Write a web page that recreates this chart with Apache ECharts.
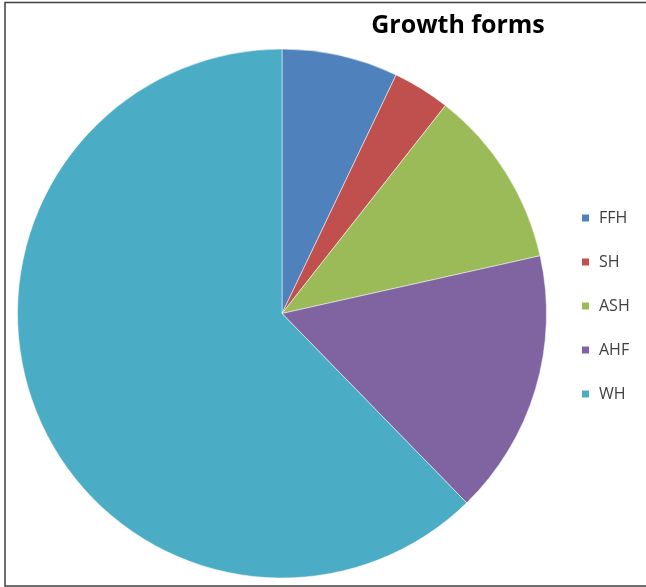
<!DOCTYPE html>
<html>
<head>
<meta charset="utf-8">
<script src="https://cdn.jsdelivr.net/npm/echarts@6/dist/echarts.min.js"></script>
<style>
  html, body { margin: 0; padding: 0; background: #fff; }
  #chart { width: 646px; height: 587px; }
</style>
</head>
<body>
<div id="chart"></div>
<script>
// 数据
var categories = ['FFH', 'SH', 'ASH', 'AHF', 'WH']
var values = [7.1, 3.5, 10.9, 16.2, 62.3]
var colors = ['#4F81BD', '#C0504D', '#9BBB59', '#8064A2', '#4BACC6']

var myChart = echarts.init(document.getElementById('chart'))

var pieData = categories.map(function (name, i) {
  return { name: name, value: values[i], itemStyle: { color: colors[i] } }
})

var option = {
  animation: false,
  title: {
    text: 'Growth forms',
    left: 453,
    top: 8,
    textAlign: 'center',
    textStyle: {
      fontFamily: 'Open Sans',
      fontWeight: 'bold',
      fontSize: 25,
      color: '#000'
    }
  },
  legend: {
    orient: 'vertical',
    left: 580,
    top: 210,
    padding: 0,
    itemWidth: 9,
    itemHeight: 9,
    itemGap: 28,
    icon: 'rect',
    data: categories,
    textStyle: {
      fontFamily: 'Open Sans',
      fontSize: 16,
      lineHeight: 16,
      color: '#404040',
      padding: [0, 0, 0, 4]
    }
  },
  graphic: [{
    type: 'rect',
    shape: { x: 5, y: 2.5, width: 700, height: 583.5 },
    style: { fill: 'none', stroke: '#404040', lineWidth: 1.5 },
    silent: true
  }],
  series: [{
    type: 'pie',
    center: [282, 313.5],
    radius: 264.5,
    startAngle: 90,
    clockwise: true,
    label: { show: false },
    labelLine: { show: false },
    emphasis: { disabled: true },
    itemStyle: { borderColor: '#fff', borderWidth: 0.5 },
    data: pieData
  }]
}

myChart.setOption(option)
</script>
</body>
</html>
